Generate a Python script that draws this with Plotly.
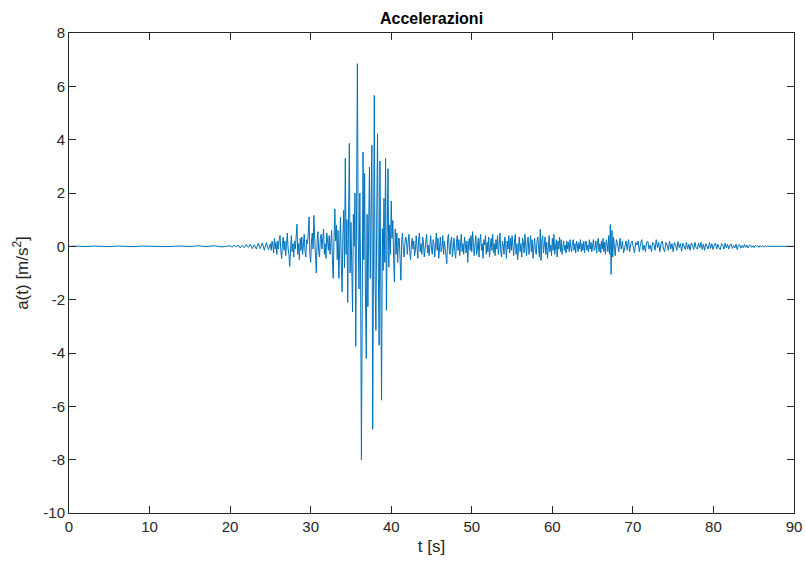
import numpy as np
import plotly.graph_objects as go

# --- data (acceleration in m/s^2), per time segment ---
# segment: (start time [s], sample step [s], values)
quiet_start, quiet_dt = 0.0, 1.0
quiet_vals = [0, 0.01, -0.01, 0.01, 0, -0.01, 0.01, 0, -0.01, 0.01,
              0, 0.01, -0.01, 0, 0.01, -0.01, 0.02, -0.01, 0.02, -0.02]

onset_start, onset_dt = 20.0, 0.25
onset_vals = [0.02, -0.03, 0.04, -0.02, 0.05, -0.06, 0.04, -0.05, 0.07, -0.04,
              0.08, -0.09, 0.06, -0.1, 0.12, -0.08, 0.13, -0.15, 0.14, -0.12]

pre_start, pre_dt = 25.0, 0.1
pre_vals = [0.1, -0.15, 0.2, 0.05, -0.25, 0.3, -0.1, 0.15, -0.3, 0.2,
            -0.1, 0.25, 0.41, -0.2, -0.46, 0.1, 0.35, -0.15, 0.2, -0.35,
            0.3, 0.5, -0.1, -0.3, -0.75, 0.2, 0.4, -0.2, 0.1, -0.4,
            0.2, -0.1, 0.45, 0.83, -0.3, 0.1, -0.5, 0.3, -0.15, 0.35,
            -0.3, 0.1, 0.45, -0.2, -0.4, 0.25, 0.1, 0.5, 1.1, -0.3,
            -0.6, 0.2, 0.5, -0.1, 1.16, 0.3, -0.4, -1.0, 0.2, 0.55,
            -0.2, -0.4, 0.3, 0.45, -0.1, 0.2, 0.65, -0.3, 0.1, -0.45,
            0.5, 0.2, -0.15, 0.4, -0.3, 0.1, 0.6, -0.5, -1.2, 0.3]

burst_start, burst_dt = 33.0, 0.1
burst_vals = [1.4, 0.2, 0.8, -0.5, 0.6, -1.2, 0.3, 1.1, -0.6, -1.7,
              0.4, 1.35, -0.8, 3.3, -0.3, 1.0, -2.1, 0.5, 3.86, -1.0,
              0.9, -0.7, -2.46, 1.2, 0.0, 2.0, -3.75, 1.5, 6.85, 0.5,
              -1.6, 2.0, -1.1, -8.0, 1.0, 3.54, -0.5, 2.74, -1.9, -4.2,
              1.2, -2.27, 0.7, 2.97, -1.2, 1.8, 3.79, -6.86, 1.5, 5.66,
              -1.5, -3.15, 1.0, 4.22, -1.0, -3.71, 3.2, -0.5, -5.77, 0.66,
              -0.9, 1.8, -0.6, 3.3, -2.4, 0.4, 2.91, -0.78, 0.8, -0.3,
              1.7, 0.3, 0.97, -0.5, -1.34, 0.65, -0.3, 0.5, -0.6, 0.3]

coda_start, coda_dt = 41.0, 0.1
coda_vals = [0.3, -0.5, -1.27, 0.2, 0.5, -0.1, -0.4, 0.1, 0.35, 0.2,
             -0.3, 0.15, 0.45, -0.2, -0.5, 0.05, 0.3, -0.1, 0.2, -0.35,
             -0.15, 0.4, 0.1, -0.45, 0.25, 0.5, -0.2, 0.1, -0.3, 0.35,
             0.15, -0.4, -0.1, 0.3, 0.45, -0.25, 0.05, -0.35, 0.2, 0.4,
             -0.1, -0.3, 0.25, 0.1, -0.4, 0.2, 0.5, -0.15, 0.3, -0.45,
             0.1, 0.35, -0.2, -0.05, 0.4, -0.3, 0.2, -0.1, -0.35, -0.65,
             0.25, 0.45, -0.1, -0.3, 0.2, 0.35, -0.4, 0.1, 0.3, -0.2,
             -0.45, 0.15, 0.4, -0.15, 0.25, -0.35, 0.05, 0.45, -0.2, 0.1,
             -0.3, 0.35, 0.1, -0.25, 0.2, -0.6, 0.1, 0.3, -0.15, 0.4,
             -0.2, 0.55, 0.15, -0.35, 0.05, 0.4, -0.3, -0.1, 0.3, -0.4,
             0.2, 0.45, -0.15, 0.1, -0.45, 0.25, 0.05, 0.4, -0.3, 0.15,
             -0.2, 0.35, -0.4, 0.1, 0.3, -0.15, 0.45, -0.25, 0.1, -0.35,
             0.25, -0.1, 0.4, -0.3, 0.15, 0.5, -0.2, -0.4, 0.2, 0.05,
             -0.3, 0.35, 0.1, -0.45, 0.2, -0.1, 0.4, -0.25, 0.3, -0.15,
             0.4, -0.05, -0.35, 0.2, 0.45, -0.3, 0.1, -0.5, 0.25, 0.35,
             -0.2, 0.1, -0.4, 0.3, 0.15, -0.25, 0.45, -0.1, -0.35, 0.2,
             0.35, -0.3, 0.05, 0.4, -0.2, 0.25, -0.45, 0.1, 0.3, -0.15,
             -0.3, 0.2, 0.35, -0.1, -0.4, 0.63, -0.53, 0.2, 0.4, -0.25,
             0.1, 0.35, -0.3, 0.15, -0.45, 0.25, 0.4, -0.2, 0.05, -0.35,
             0.3, -0.15, 0.45, -0.3, 0.1, 0.25, -0.4, 0.2, -0.1, 0.35,
             -0.2, 0.25, -0.3, 0.1, 0.2, -0.15, 0.05, -0.25, 0.2, -0.1,
             0.15, -0.2, 0.25, -0.05, -0.2, 0.15, 0.25, -0.15, 0.1, -0.25,
             0.2, 0.05, -0.2, 0.15, -0.1, 0.25, -0.2, 0.1, -0.15, 0.2,
             -0.25, 0.1, 0.2, -0.15, 0.05, -0.2, 0.25, -0.1, 0.15, -0.2,
             0.1, 0.25, -0.15, -0.05, 0.2, -0.25, 0.15, 0.3, -0.2, 0.1,
             -0.25, 0.2, -0.1, 0.3, -0.2, 0.15, -0.3, 0.25, 0.1, -0.2]

spike_start, spike_dt = 67.0, 0.1
spike_vals = [0.4, -0.3, 0.82, -1.05, 0.6, -0.4, 0.35, -0.2]

tail_start, tail_dt = 67.8, 0.15
tail_vals = [-0.35, 0.25, 0.1, -0.2, 0.3, -0.1, 0.2, -0.25, 0.05, 0.2,
             -0.15, 0.25, -0.2, 0.1, 0.2, -0.1, -0.25, 0.15, 0.05, 0.2,
             -0.2, 0.1, 0.25, -0.15, 0.05, -0.2, 0.15, 0.2, -0.1, 0.05,
             -0.2, 0.15, 0.1, -0.15, 0.25, -0.05, 0.15, -0.2, 0.1, 0.2,
             -0.1, -0.2, 0.15, 0.05, -0.15, 0.2, -0.1, 0.1, -0.2, 0.15,
             0.05, -0.15, 0.18, -0.05, 0.1, -0.18, 0.12, 0.02, -0.12, 0.15,
             -0.1, 0.08, -0.15, 0.12, 0.05, -0.12, 0.15, -0.05, -0.1, 0.12,
             -0.05, 0.15, -0.12, 0.08, -0.15, 0.1, 0.02, -0.1, 0.14, -0.08,
             0.1, -0.12, 0.05, 0.12, -0.1, 0.08, -0.05, -0.12, 0.1, 0.04,
             -0.1, 0.12, -0.06, 0.08, -0.1, 0.05, 0.09, -0.08, 0.03, -0.06,
             0.08, -0.12, 0.04, 0.06, -0.07, 0.03, -0.05, 0.07, -0.04, 0.05,
             -0.06, 0.03, 0.05, -0.04, 0.02, -0.05, 0.04, -0.02, 0.03, -0.04,
             0.03, -0.02, 0.02, -0.03, 0.02, -0.01, 0.01, 0.0]

end_times = [87.0, 88.0, 89.0, 90.0]
end_vals = [0.0, 0.0, 0.0, 0.0]

segments = [(quiet_start, quiet_dt, quiet_vals), (onset_start, onset_dt, onset_vals),
            (pre_start, pre_dt, pre_vals), (burst_start, burst_dt, burst_vals),
            (coda_start, coda_dt, coda_vals), (spike_start, spike_dt, spike_vals),
            (tail_start, tail_dt, tail_vals)]

t, a = [], []
for t0, dt, vals in segments:
    t.extend((t0 + dt * np.arange(len(vals))).tolist())
    a.extend(vals)
t.extend(end_times)
a.extend(end_vals)

x_ticks = [0, 10, 20, 30, 40, 50, 60, 70, 80, 90]
x_labels = ["0", "10", "20", "30", "40", "50", "60", "70", "80", "90"]
y_ticks = [-10, -8, -6, -4, -2, 0, 2, 4, 6, 8]
y_labels = ["-10", "-8", "-6", "-4", "-2", "0", "2", "4", "6", "8"]

FONT = "Liberation Sans, Arial, Helvetica, sans-serif"
AX = "#262626"

W, H = 805, 563

fig = go.Figure()
fig.add_trace(go.Scatter(x=t, y=a, mode="lines",
                         line=dict(color="#0072BD", width=1), showlegend=False))

axis_common = dict(showgrid=False, zeroline=False, showline=True, linecolor=AX,
                   linewidth=1, mirror="ticks", ticks="inside", ticklen=7,
                   tickcolor=AX, tickwidth=1, automargin=False,
                   tickfont=dict(family=FONT, size=15, color=AX))

fig.update_layout(
    width=W, height=H,
    margin=dict(l=69, r=11, t=33, b=50, pad=0),
    paper_bgcolor="white", plot_bgcolor="white",
    title=dict(text="<b>Accelerazioni</b>", x=(69 + 794) / 2 / W, xanchor="center",
               y=1 - 18 / H, yanchor="middle",
               font=dict(family=FONT, size=16, color="black")),
    xaxis=dict(range=[0, 90], tickvals=x_ticks, ticktext=x_labels,
               title=dict(text="t [s]", font=dict(family=FONT, size=17, color=AX), standoff=6),
               **axis_common),
    yaxis=dict(range=[-10, 8], tickvals=y_ticks, ticktext=y_labels,
               title=dict(text="a(t) [m/s<sup>2</sup>]", font=dict(family=FONT, size=17, color=AX),
                          standoff=10),
               **axis_common),
)

# remove the browser's default page margin and scrollbars so the figure fills the window
page_fix = ("document.body.style.margin='0';"
            "document.body.style.overflow='hidden';"
            "document.documentElement.style.overflow='hidden';")
fig.write_html("out.html", post_script=page_fix, config={"displayModeBar": False})
